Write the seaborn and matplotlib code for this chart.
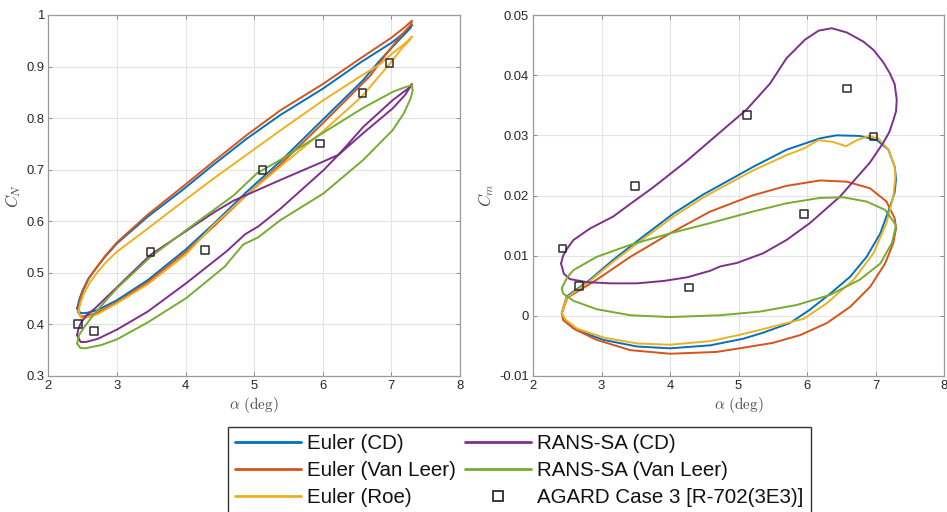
import numpy as np
import matplotlib
matplotlib.use("Agg")
import matplotlib.pyplot as plt
from matplotlib.lines import Line2D
import seaborn as sns

# ---------------------------------------------------------------
# Pitching-airfoil hysteresis loops (closed paths, alpha in deg)
# ---------------------------------------------------------------
# Normal-force coefficient C_N
euler_cd_cn_alpha = [2.42, 2.45, 2.50, 2.58, 2.68, 2.82, 3.00, 3.45, 3.94, 4.41, 4.89, 5.38, 6.00, 6.55, 7.00, 7.20, 7.30,
                     7.28, 7.10, 6.84, 6.59, 6.00, 5.38, 4.89, 4.41, 4.00, 3.45, 3.00, 2.72, 2.55, 2.47, 2.42]
euler_cd_cn = [0.431, 0.448, 0.466, 0.488, 0.506, 0.530, 0.557, 0.609, 0.659, 0.710, 0.760, 0.806, 0.857, 0.908, 0.946, 0.967, 0.981,
               0.975, 0.950, 0.913, 0.874, 0.797, 0.716, 0.657, 0.595, 0.545, 0.486, 0.447, 0.428, 0.422, 0.422, 0.431]

euler_vl_cn_alpha = [2.43, 2.46, 2.51, 2.59, 2.69, 2.83, 3.00, 3.45, 3.94, 4.41, 4.89, 5.38, 6.00, 6.55, 7.00, 7.20, 7.30,
                     7.29, 7.12, 6.90, 6.69, 6.00, 5.38, 4.89, 4.41, 4.00, 3.45, 3.00, 2.72, 2.55, 2.47, 2.43]
euler_vl_cn = [0.425, 0.447, 0.466, 0.489, 0.508, 0.533, 0.559, 0.613, 0.665, 0.716, 0.767, 0.815, 0.866, 0.916, 0.956, 0.977, 0.989,
               0.982, 0.957, 0.920, 0.882, 0.790, 0.710, 0.651, 0.590, 0.540, 0.482, 0.443, 0.423, 0.416, 0.416, 0.425]

euler_roe_cn_alpha = [2.44, 2.47, 2.52, 2.60, 2.72, 2.85, 3.00, 3.45, 3.94, 4.41, 4.89, 5.38, 6.00, 6.50, 6.84, 7.00, 7.20, 7.30,
                      7.26, 7.15, 6.98, 6.57, 6.00, 5.38, 4.89, 4.41, 4.00, 3.45, 3.00, 2.72, 2.55, 2.48, 2.44]
euler_roe_cn = [0.425, 0.442, 0.460, 0.480, 0.502, 0.522, 0.541, 0.586, 0.636, 0.683, 0.729, 0.776, 0.834, 0.877, 0.905, 0.924, 0.945, 0.958,
                0.950, 0.935, 0.906, 0.842, 0.774, 0.706, 0.651, 0.593, 0.535, 0.478, 0.441, 0.420, 0.413, 0.413, 0.425]

rans_cd_cn_alpha = [2.42, 2.44, 2.48, 2.56, 2.68, 2.82, 3.00, 3.49, 3.94, 4.41, 4.70, 5.04, 5.38, 6.01, 6.23, 6.59, 7.02, 7.20, 7.30,
                    7.26, 7.02, 6.59, 6.23, 6.01, 5.38, 5.06, 4.87, 4.60, 4.41, 4.01, 3.45, 3.00, 2.72, 2.55, 2.47, 2.42]
rans_cd_cn = [0.379, 0.392, 0.404, 0.418, 0.431, 0.449, 0.472, 0.535, 0.575, 0.617, 0.640, 0.660, 0.680, 0.716, 0.729, 0.771, 0.819, 0.845, 0.866,
              0.859, 0.835, 0.783, 0.729, 0.699, 0.624, 0.590, 0.575, 0.542, 0.522, 0.480, 0.425, 0.390, 0.372, 0.366, 0.366, 0.379]

rans_vl_cn_alpha = [2.42, 2.45, 2.53, 2.62, 2.72, 2.85, 3.00, 3.49, 4.01, 4.41, 4.70, 5.04, 5.38, 6.01, 6.59, 7.02, 7.20, 7.30,
                    7.31, 7.28, 7.18, 7.02, 6.59, 6.01, 5.38, 5.06, 4.84, 4.57, 4.01, 3.45, 3.00, 2.77, 2.55, 2.47, 2.42]
rans_vl_cn = [0.363, 0.380, 0.396, 0.412, 0.428, 0.448, 0.470, 0.531, 0.583, 0.622, 0.650, 0.693, 0.719, 0.772, 0.820, 0.851, 0.860, 0.864,
              0.853, 0.838, 0.809, 0.777, 0.719, 0.654, 0.602, 0.569, 0.555, 0.512, 0.451, 0.404, 0.371, 0.360, 0.354, 0.354, 0.363]

# Pitching-moment coefficient C_m
euler_cd_cm_alpha = [2.42, 2.49, 2.83, 3.17, 3.61, 4.05, 4.49, 4.73, 5.22, 5.70, 6.19, 6.43, 6.77, 7.02, 7.19, 7.28, 7.30,
                     7.28, 7.21, 7.07, 6.87, 6.63, 6.34, 6.04, 5.75, 5.36, 5.07, 4.59, 4.00, 3.52, 3.03, 2.64, 2.47, 2.42]
euler_cd_cm = [0.0004, 0.0032, 0.0060, 0.0093, 0.0132, 0.0170, 0.0202, 0.0217, 0.0248, 0.0276, 0.0295, 0.0300, 0.0299, 0.0292, 0.0276, 0.0248, 0.0228,
               0.0205, 0.0181, 0.0137, 0.0098, 0.0065, 0.0037, 0.0010, -0.0012, -0.0028, -0.0038, -0.0049, -0.0054, -0.0051, -0.0040, -0.0024, -0.0008, 0.0004]

euler_vl_cm_alpha = [2.42, 2.50, 2.93, 3.42, 4.00, 4.58, 5.20, 5.70, 6.19, 6.58, 6.92, 7.16, 7.28, 7.30,
                     7.26, 7.14, 6.92, 6.63, 6.29, 5.90, 5.50, 5.07, 4.68, 4.00, 3.42, 2.93, 2.59, 2.44, 2.42]
euler_vl_cm = [0.0004, 0.0030, 0.0060, 0.0098, 0.0137, 0.0173, 0.0200, 0.0216, 0.0225, 0.0223, 0.0212, 0.0190, 0.0162, 0.0145,
               0.0121, 0.0087, 0.0048, 0.0015, -0.0012, -0.0032, -0.0045, -0.0053, -0.0060, -0.0063, -0.0057, -0.0040, -0.0021, -0.0007, 0.0004]

euler_roe_cm_alpha = [2.42, 2.49, 2.83, 3.17, 3.61, 4.05, 4.49, 4.73, 5.22, 5.70, 5.95, 6.17, 6.38, 6.57, 6.73, 6.90, 7.04, 7.19, 7.28, 7.29,
                      7.26, 7.16, 6.97, 6.68, 6.29, 5.95, 5.36, 5.00, 4.59, 4.00, 3.52, 3.03, 2.64, 2.47, 2.42]
euler_roe_cm = [0.0004, 0.0030, 0.0058, 0.0090, 0.0128, 0.0165, 0.0197, 0.0212, 0.0242, 0.0267, 0.0278, 0.0292, 0.0289, 0.0282, 0.0292, 0.0299, 0.0295, 0.0276, 0.0248, 0.0230,
                0.0198, 0.0154, 0.0104, 0.0060, 0.0021, -0.0005, -0.0022, -0.0032, -0.0042, -0.0048, -0.0046, -0.0036, -0.0021, -0.0006, 0.0004]

rans_cd_cm_alpha = [2.41, 2.44, 2.50, 2.59, 2.83, 3.17, 3.42, 3.76, 4.25, 4.73, 5.12, 5.46, 5.70, 5.97, 6.17, 6.36, 6.58, 6.82, 6.97, 7.11, 7.21, 7.28, 7.31,
                    7.30, 7.26, 7.20, 7.11, 6.92, 6.82, 6.48, 6.04, 5.70, 5.36, 4.98, 4.73, 4.59, 4.25, 3.91, 3.52, 3.13, 2.79, 2.54, 2.45, 2.41]
rans_cd_cm = [0.0087, 0.0100, 0.0112, 0.0126, 0.0145, 0.0165, 0.0186, 0.0214, 0.0258, 0.0305, 0.0343, 0.0386, 0.0428, 0.0459, 0.0474, 0.0478, 0.0471, 0.0456, 0.0442, 0.0422, 0.0403, 0.0385, 0.0359,
              0.0340, 0.0325, 0.0305, 0.0287, 0.0255, 0.0242, 0.0198, 0.0154, 0.0126, 0.0104, 0.0088, 0.0082, 0.0075, 0.0064, 0.0058, 0.0054, 0.0054, 0.0056, 0.0061, 0.0070, 0.0087]

rans_vl_cm_alpha = [2.42, 2.50, 2.59, 2.93, 3.42, 4.00, 4.58, 5.20, 5.70, 6.19, 6.53, 6.87, 7.14, 7.28, 7.30,
                    7.24, 7.07, 6.77, 6.34, 5.85, 5.31, 4.73, 4.00, 3.42, 2.93, 2.59, 2.44, 2.42]
rans_vl_cm = [0.0046, 0.0064, 0.0076, 0.0098, 0.0118, 0.0137, 0.0154, 0.0173, 0.0187, 0.0196, 0.0197, 0.0190, 0.0176, 0.0154, 0.0150,
              0.0121, 0.0087, 0.0060, 0.0035, 0.0018, 0.0007, 0.0001, -0.0002, 0.0001, 0.0011, 0.0025, 0.0037, 0.0046]

# Wind-tunnel data
exp_alpha = [2.43, 2.67, 3.49, 4.28, 5.12, 5.96, 6.58, 6.97]
exp_cn = [0.401, 0.387, 0.541, 0.544, 0.699, 0.751, 0.849, 0.907]
exp_cm = [0.0112, 0.0050, 0.0216, 0.0047, 0.0334, 0.0169, 0.0378, 0.0298]

series_labels = ["Euler (CD)", "Euler (Van Leer)", "Euler (Roe)", "RANS-SA (CD)", "RANS-SA (Van Leer)"]
exp_label = "AGARD Case 3 [R-702(3E3)]"

x_ticks = [2, 3, 4, 5, 6, 7, 8]
cn_ticks = [0.3, 0.4, 0.5, 0.6, 0.7, 0.8, 0.9, 1.0]
cn_tick_labels = ["0.3", "0.4", "0.5", "0.6", "0.7", "0.8", "0.9", "1"]
cm_ticks = [-0.01, 0.0, 0.01, 0.02, 0.03, 0.04, 0.05]
cm_tick_labels = ["-0.01", "0", "0.01", "0.02", "0.03", "0.04", "0.05"]

# ---------------------------------------------------------------
sns.set_theme(style="whitegrid")
plt.rcParams["font.family"] = ["Liberation Sans", "DejaVu Sans"]
plt.rcParams["mathtext.fontset"] = "cm"

colors = ["#0072BD", "#D95319", "#EDB120", "#7E2F8E", "#77AC30"]
line_w = 1.4

fig = plt.figure(figsize=(9.47, 5.12), dpi=100)
fig.patch.set_facecolor("white")
W, H = 947.0, 512.0
ax1 = fig.add_axes([48.3 / W, 1 - 376 / H, 411.7 / W, 361 / H])
ax2 = fig.add_axes([533 / W, 1 - 376 / H, 411 / W, 361 / H])

cn_curves = [(euler_cd_cn_alpha, euler_cd_cn), (euler_vl_cn_alpha, euler_vl_cn),
             (euler_roe_cn_alpha, euler_roe_cn), (rans_cd_cn_alpha, rans_cd_cn),
             (rans_vl_cn_alpha, rans_vl_cn)]
cm_curves = [(euler_cd_cm_alpha, euler_cd_cm), (euler_vl_cm_alpha, euler_vl_cm),
             (euler_roe_cm_alpha, euler_roe_cm), (rans_cd_cm_alpha, rans_cd_cm),
             (rans_vl_cm_alpha, rans_vl_cm)]

for ax, curves, exp_vals in [(ax1, cn_curves, exp_cn), (ax2, cm_curves, exp_cm)]:
    for (a, v), c in zip(curves, colors):
        sns.lineplot(x=np.array(a), y=np.array(v), sort=False, estimator=None,
                     color=c, linewidth=line_w, ax=ax, zorder=3)
    ax.scatter(exp_alpha, exp_vals, marker="s", s=30, facecolors="none",
               edgecolors="#2b2b2b", linewidths=1.1, zorder=5)

ax1.set_xlim(2, 8)
ax1.set_ylim(0.3, 1.0)
ax1.set_yticks(cn_ticks)
ax1.set_yticklabels(cn_tick_labels)
ax1.set_ylabel(r"$C_N$", fontsize=12, color="#4d4d4d", labelpad=2)

ax2.set_xlim(2, 8)
ax2.set_ylim(-0.01, 0.05)
ax2.set_yticks(cm_ticks)
ax2.set_yticklabels(cm_tick_labels)
ax2.set_ylabel(r"$C_m$", fontsize=12, color="#4d4d4d", labelpad=2)

for ax in (ax1, ax2):
    ax.set_facecolor("white")
    ax.set_xticks(x_ticks)
    ax.set_xticklabels([str(t) for t in x_ticks])
    ax.set_xlabel(r"$\alpha\ \mathrm{(deg)}$", fontsize=11, color="#4d4d4d", labelpad=2)
    ax.grid(True, color="#e3e3e3", linewidth=0.8)
    ax.tick_params(direction="in", length=3, width=0.7, color="#8c8c8c",
                   labelsize=9.4, labelcolor="#262626", pad=3,
                   top=True, right=True, bottom=True, left=True)
    for s in ax.spines.values():
        s.set_visible(True)
        s.set_color("#9a9a9a")
        s.set_linewidth(0.9)

handles = [Line2D([], [], color=c, linewidth=2.0) for c in colors]
handles.append(Line2D([], [], linestyle="none", marker="s", markersize=6.5,
                      markerfacecolor="none", markeredgecolor="#1a1a1a", markeredgewidth=1.2))
labels = series_labels + [exp_label]

leg = fig.legend(handles, labels, loc="upper center", bbox_to_anchor=(519.5 / W, 1 - 427 / H),
                 ncol=2, fontsize=14.8, frameon=True, fancybox=False, shadow=False,
                 edgecolor="#333333", facecolor="white", framealpha=1.0,
                 handlelength=3.2, handletextpad=0.3, columnspacing=0.45,
                 labelspacing=0.38, borderpad=0.35, borderaxespad=0.0)
leg.get_frame().set_linewidth(1.0)
for t in leg.get_texts():
    t.set_color("#111111")

fig.savefig("out.png", dpi=100)
